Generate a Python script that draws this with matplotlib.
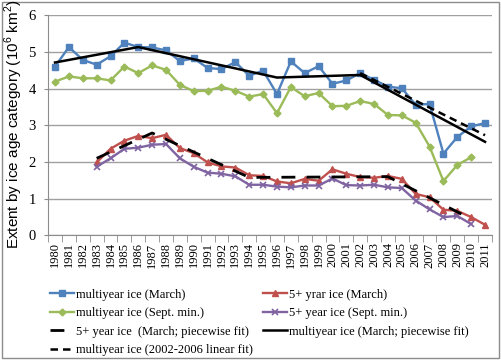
import numpy as np
import matplotlib.pyplot as plt
from matplotlib.patches import Rectangle
from matplotlib.ticker import FixedLocator

plt.rcParams['mathtext.fontset'] = 'custom'
plt.rcParams['mathtext.rm'] = 'Liberation Sans'

years = list(range(1980, 2012))

# multiyear ice, March (1980-2011)
my_march = [4.60, 5.13, 4.78, 4.65, 4.88, 5.25, 5.13, 5.12, 5.04, 4.75,
            4.82, 4.56, 4.53, 4.72, 4.35, 4.49, 3.85, 4.74, 4.42, 4.61,
            4.13, 4.22, 4.42, 4.24, 4.05, 4.01, 3.56, 3.58, 2.23, 2.68,
            2.97, 3.06]
# multiyear ice, Sept. minimum (1980-2010)
my_sept = [4.19, 4.33, 4.28, 4.28, 4.22, 4.60, 4.42, 4.63, 4.51, 4.10,
           3.93, 3.94, 4.05, 3.94, 3.78, 3.85, 3.33, 4.04, 3.79, 3.88,
           3.52, 3.53, 3.66, 3.58, 3.28, 3.27, 3.07, 2.42, 1.48, 1.92,
           2.13]
# 5+ year ice, March (1983-2011)
five_march = [1.99, 2.36, 2.58, 2.71, 2.65, 2.74, 2.38, 2.24, 1.99, 1.88,
              1.85, 1.64, 1.62, 1.47, 1.42, 1.54, 1.49, 1.80, 1.68, 1.59,
              1.57, 1.62, 1.54, 1.13, 1.04, 0.70, 0.67, 0.50, 0.29]
# 5+ year ice, Sept. minimum (1983-2010)
five_sept = [1.87, 2.10, 2.36, 2.39, 2.47, 2.49, 2.10, 1.87, 1.71, 1.68,
             1.61, 1.38, 1.38, 1.33, 1.31, 1.36, 1.36, 1.55, 1.37, 1.36,
             1.38, 1.31, 1.29, 0.95, 0.71, 0.50, 0.53, 0.31]

# piecewise fits (knots)
five_fit_years = [1983, 1987, 1994, 2004, 2010]
five_fit_vals = [2.10, 2.79, 1.58, 1.60, 0.45]
my_fit_years = [1980, 1986, 1996, 2002, 2011]
my_fit_vals = [4.71, 5.13, 4.30, 4.37, 2.55]
lin_fit_years = [2002, 2011]
lin_fit_vals = [4.42, 2.73]

def idx(yrs):
    return [y - 1980 for y in yrs]

fig = plt.figure(figsize=(5.01, 3.6), dpi=100)
ax = fig.add_axes([0.096, 0.346, 0.886, 0.612])

lw = 1.7
l1, = ax.plot(idx(years), my_march, color='#4F81BD', lw=lw, marker='s', ms=5,
              label='multiyear ice (March)')
l2, = ax.plot(idx(years[:31]), my_sept, color='#9BBB59', lw=lw, marker='D', ms=3.5,
              label='multiyear ice (Sept. min.)')
l3, = ax.plot(idx(years[3:]), five_march, color='#C0504D', lw=lw, marker='^', ms=5,
              label='5+ yrar ice (March)')
l4, = ax.plot(idx(years[3:31]), five_sept, color='#8064A2', lw=lw, marker='x', ms=4,
              mew=1.2, label='5+ year ice (Sept. min.)')
l5, = ax.plot(idx(five_fit_years), five_fit_vals, color='black', lw=2,
              dashes=(5, 4), label='5+ year ice  (March; piecewise fit)')
l6, = ax.plot(idx(my_fit_years), my_fit_vals, color='black', lw=1.8,
              label='multiyear ice (March; piecewise fit)')
l7, = ax.plot(idx(lin_fit_years), lin_fit_vals, color='black', lw=1.8,
              dashes=(3, 2), label='multiyear ice (2002-2006 linear fit)')

ax.set_xlim(-0.5, 31.5)
ax.set_ylim(0, 6)
ax.set_yticks(range(0, 7))
ax.yaxis.grid(True, color='#A0A0A0', lw=1)
ax.set_axisbelow(True)
for s in ['top', 'right']:
    ax.spines[s].set_visible(False)
ax.spines['left'].set_color('#8C8C8C')
ax.spines['bottom'].set_color('#8C8C8C')

ax.set_xticks(range(32))
ax.set_xticklabels([str(y) for y in years], rotation=90, family='Liberation Serif',
                   fontsize=9)
ax.xaxis.set_minor_locator(FixedLocator(np.arange(-0.5, 32, 1)))
ax.tick_params(axis='x', which='major', length=0, pad=5)
ax.tick_params(axis='x', which='minor', length=5, color='#8C8C8C')
ax.tick_params(axis='y', length=3, color='#8C8C8C', pad=6)
for t in ax.get_yticklabels():
    t.set_family('Liberation Serif')
    t.set_fontsize(10.5)

fig.text(0.027, 0.655, 'Extent by ice age category (10$^6$ km$^2$)',
         family='Liberation Sans', fontsize=11, rotation=90, ha='center', va='center')

leg_kw = dict(loc='upper left', frameon=False,
              prop={'family': 'Liberation Serif', 'size': 9},
              handlelength=1.9, handletextpad=0.2, labelspacing=0.52,
              borderaxespad=0, borderpad=0)
col1 = [l1, l2, l5, l7]
col2 = [l3, l4, l6]
leg1 = fig.legend(handles=col1, labels=[h.get_label() for h in col1],
                  bbox_to_anchor=(0.1, 0.198), **leg_kw)
leg2 = fig.legend(handles=col2, labels=[h.get_label() for h in col2],
                  bbox_to_anchor=(0.525, 0.198), **leg_kw)

fig.patches.append(Rectangle((0.004, 0.006), 0.992, 0.988, transform=fig.transFigure,
                             fill=False, edgecolor='#8C8C8C', lw=1))

fig.savefig('out.png', dpi=100)
